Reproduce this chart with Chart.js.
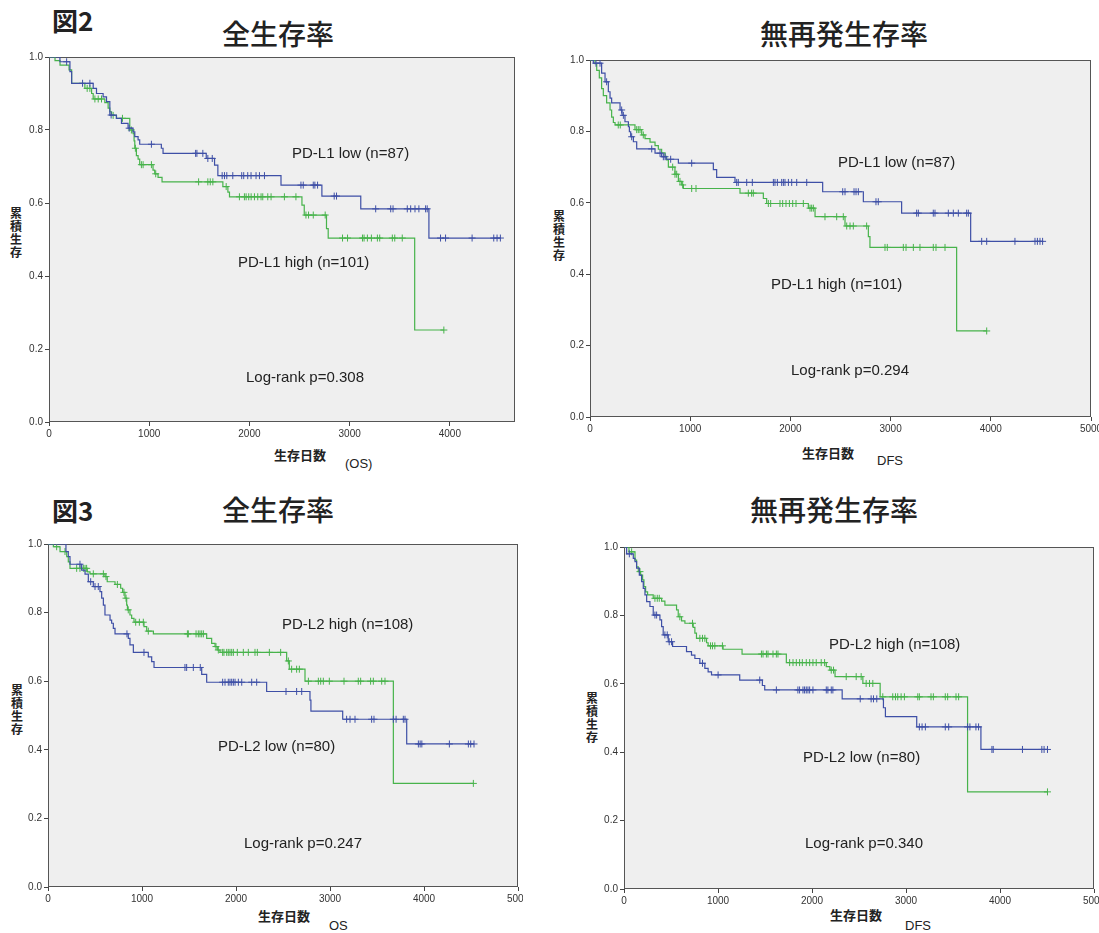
<!DOCTYPE html>
<html lang="ja">
<head>
<meta charset="UTF-8">
<title>PD-L1 / PD-L2 生存曲線</title>
<script src="https://cdn.jsdelivr.net/npm/chart.js"></script>
<style>
  body { margin: 0; background: #fff; width: 1099px; height: 933px; position: relative; overflow: hidden;
         font-family: "Liberation Sans", Arial, sans-serif; color: #222; }
  canvas { position: absolute; }
  .t { position: absolute; white-space: nowrap; line-height: 1; }
  .jp { font-family: "Noto Sans CJK JP", sans-serif; }
  .fig { font-size: 26px; font-weight: 700; }
  .title { font-size: 28px; font-weight: 500; }
  .note { font-size: 15px; }
  .ylab { font-size: 12px; font-weight: 700; line-height: 13px; width: 13px; white-space: normal; }
  .xlab { font-size: 13px; font-weight: 700; }
  .xsub { font-size: 13px; }
</style>
</head>
<body>
  <div class="t jp fig" style="left:52px; top:7px;">図2</div>
  <div class="t jp title" style="left:222px; top:19px;">全生存率</div>
  <div class="t jp title" style="left:760px; top:19px;">無再発生存率</div>
  <div class="t jp fig" style="left:52px; top:497px;">図3</div>
  <div class="t jp title" style="left:222px; top:495px;">全生存率</div>
  <div class="t jp title" style="left:750px; top:495px;">無再発生存率</div>

  <div class="t jp ylab" style="left:10px; top:206px;">累積生存</div>
  <div class="t jp ylab" style="left:553px; top:209px;">累積生存</div>
  <div class="t jp ylab" style="left:11px; top:683px;">累積生存</div>
  <div class="t jp ylab" style="left:586px; top:691px;">累積生存</div>

  <div class="t jp xlab" style="left:274px; top:448px;">生存日数</div>
  <div class="t xsub" style="left:345px; top:457px;">(OS)</div>
  <div class="t jp xlab" style="left:802px; top:446px;">生存日数</div>
  <div class="t xsub" style="left:877px; top:454px;">DFS</div>
  <div class="t jp xlab" style="left:258px; top:909px;">生存日数</div>
  <div class="t xsub" style="left:329px; top:919px;">OS</div>
  <div class="t jp xlab" style="left:830px; top:908px;">生存日数</div>
  <div class="t xsub" style="left:905px; top:919px;">DFS</div>

  <canvas id="osL1" width="510" height="393" style="left:13px; top:51px;"></canvas>
  <canvas id="dfsL1" width="545" height="385" style="left:554px; top:54px;"></canvas>
  <canvas id="osL2" width="511" height="371" style="left:12px; top:538px;"></canvas>
  <canvas id="dfsL2" width="511" height="370" style="left:588px; top:541px;"></canvas>

  <div class="t note" style="left:292px; top:145px;">PD-L1 low (n=87)</div>
  <div class="t note" style="left:238px; top:254px;">PD-L1 high (n=101)</div>
  <div class="t note" style="left:246px; top:369px;">Log-rank p=0.308</div>
  <div class="t note" style="left:838px; top:154px;">PD-L1 low (n=87)</div>
  <div class="t note" style="left:771px; top:276px;">PD-L1 high (n=101)</div>
  <div class="t note" style="left:791px; top:362px;">Log-rank p=0.294</div>
  <div class="t note" style="left:282px; top:616px;">PD-L2 high (n=108)</div>
  <div class="t note" style="left:218px; top:738px;">PD-L2 low (n=80)</div>
  <div class="t note" style="left:244px; top:835px;">Log-rank p=0.247</div>
  <div class="t note" style="left:829px; top:636px;">PD-L2 high (n=108)</div>
  <div class="t note" style="left:803px; top:749px;">PD-L2 low (n=80)</div>
  <div class="t note" style="left:805px; top:835px;">Log-rank p=0.340</div>

<script>
// axis ticks
const xTicks = [0, 1000, 2000, 3000, 4000, 5000];
const yTicks = [0, 0.2, 0.4, 0.6, 0.8, 1.0];

// 図2 全生存率 (OS), PD-L1 low / high
const osL1LowT = [0,109,209,226,441,474,540,574,607,673,723,789,839,856,889,905,1121,1138,1569,1652,1685,2315,2723,3111,3791,4504];
const osL1LowS = [1,0.987,0.96,0.928,0.914,0.9,0.891,0.878,0.841,0.832,0.818,0.805,0.795,0.782,0.773,0.761,0.75,0.736,0.722,0.704,0.675,0.649,0.619,0.584,0.504,0.504];
const osL1LowCT = [176,335,408,620,800,1022,1463,1476,1535,1585,1629,1728,1751,1774,1834,1923,1943,1983,2016,2066,2100,2150,2514,2537,2637,2653,2680,2846,2869,3260,3410,3433,3575,3609,3652,3691,3758,3774,3907,3957,4222,4438,4471,4504];
const osL1LowCS = [0.987,0.928,0.928,0.841,0.805,0.761,0.736,0.736,0.736,0.722,0.722,
  0.675,0.675,0.675,0.675,0.675,0.675,0.675,0.675,0.675,0.675,0.675,
  0.649,0.649,0.649,0.649,0.649,0.619,0.619,
  0.584,0.584,0.584,0.584,0.584,0.584,0.584,0.584,0.584,
  0.504,0.504,0.504,0.504,0.504,0.504];

const osL1HighT = [0,60,110,200,226,358,425,441,557,590,607,624,673,806,839,849,856,872,889,905,1038,1055,1088,1128,1735,1785,1801,2524,2547,2769,2786,3649,3940];
const osL1HighS = [1,0.99,0.978,0.965,0.928,0.914,0.9,0.885,0.875,0.86,0.85,0.84,0.832,0.8,0.79,0.77,0.75,0.73,0.72,0.705,0.69,0.68,0.67,0.658,0.645,0.63,0.617,0.594,0.567,0.53,0.504,0.252,0.252];
const osL1HighCT = [381,408,458,491,524,640,733,822,862,922,939,1022,1065,1493,1585,1609,1635,1768,1900,1950,1967,1993,2017,2050,2083,2116,2133,2183,2216,2349,2464,2564,2590,2637,2756,2929,2979,3128,3144,3177,3217,3277,3300,3426,3450,3525,3940];
const osL1HighCS = [0.914,0.914,0.885,0.885,0.885,0.84,0.832,0.8,0.75,0.705,0.705,0.705,0.68,0.658,0.658,0.658,0.658,0.645,
  0.617,0.617,0.617,0.617,0.617,0.617,0.617,0.617,0.617,0.617,0.617,0.617,0.617,
  0.567,0.567,0.567,0.567,
  0.504,0.504,0.504,0.504,0.504,0.504,0.504,0.504,0.504,0.504,0.504,0.252];

// 図2 無再発生存率 (DFS), PD-L1 low / high
const dfsL1LowT = [0,33,116,150,183,200,216,300,320,349,383,393,406,433,466,649,715,759,882,1231,1264,1447,2322,2728,3110,3799,4517];
const dfsL1LowS = [1,0.991,0.963,0.939,0.911,0.893,0.88,0.86,0.845,0.827,0.813,0.799,0.785,0.771,0.751,0.739,0.729,0.722,0.711,0.693,0.671,0.657,0.631,0.603,0.571,0.492,0.492];
const dfsL1LowCT = [60,100,166,316,333,416,616,699,732,749,805,1015,1464,1480,1564,1620,1830,1846,1870,1913,1930,1946,1980,2013,2063,2163,2522,2545,2635,2655,2678,2854,2877,3260,3277,3426,3443,3576,3626,3676,3759,3776,3909,3959,4241,4441,4465,4491,4517];
const dfsL1LowCS = [0.991,0.991,0.939,0.86,0.845,0.785,0.751,0.739,0.729,0.729,0.722,0.711,
  0.657,0.657,0.657,0.657,0.657,0.657,0.657,0.657,0.657,0.657,0.657,0.657,0.657,0.657,
  0.631,0.631,0.631,0.631,0.631,0.603,0.603,
  0.571,0.571,0.571,0.571,0.571,0.571,0.571,0.571,0.571,
  0.492,0.492,0.492,0.492,0.492,0.492,0.492];

const dfsL1HighT = [0,50,67,93,116,133,166,200,216,233,250,449,516,549,599,649,682,715,749,765,782,848,882,915,932,1497,1730,1763,2179,2246,2545,2778,2794,3659,3959];
const dfsL1HighS = [1,0.99,0.971,0.95,0.92,0.9,0.88,0.86,0.84,0.825,0.818,0.805,0.79,0.78,0.77,0.76,0.75,0.74,0.73,0.72,0.70,0.68,0.66,0.65,0.64,0.627,0.612,0.598,0.585,0.561,0.535,0.505,0.475,0.241,0.241];
const dfsL1HighCT = [282,302,466,482,499,532,825,848,865,898,925,1015,1058,1580,1613,1630,1780,1803,1896,1923,1956,1990,2023,2056,2129,2196,2212,2229,2345,2462,2528,2562,2595,2628,2761,2944,2967,3127,3154,3227,3293,3426,3453,3543,3959];
const dfsL1HighCS = [0.818,0.818,0.805,0.805,0.805,0.79,0.70,0.68,0.68,0.66,0.65,0.64,0.64,0.627,0.627,0.627,
  0.598,0.598,0.598,0.598,0.598,0.598,0.598,0.598,0.598,
  0.585,0.585,0.585,0.561,0.561,0.561,0.535,0.535,0.535,0.535,
  0.475,0.475,0.475,0.475,0.475,0.475,0.475,0.475,0.475,0.241];

// 図3 全生存率 (OS), PD-L2 low / high
const osL2LowT = [0,191,216,234,358,394,429,482,553,571,589,606,660,677,695,713,854,872,908,1067,1103,1128,1635,1688,2326,2787,2797,3135,3816,4532];
const osL2LowS = [1,0.978,0.963,0.941,0.924,0.912,0.89,0.876,0.861,0.842,0.822,0.793,0.778,0.769,0.754,0.738,0.725,0.706,0.684,0.671,0.657,0.64,0.62,0.597,0.570,0.545,0.513,0.489,0.417,0.417];
const osL2LowCT = [340,454,500,535,840,1021,1457,1475,1546,1620,1858,1883,1918,1936,1954,1972,1990,2025,2061,2167,2220,2532,2645,2699,3177,3213,3266,3443,3468,3674,3703,3780,3798,3940,3959,3977,4270,4472,4497,4532];
const osL2LowCS = [0.941,0.89,0.876,0.876,0.738,0.684,0.64,0.64,0.64,0.64,
  0.597,0.597,0.597,0.597,0.597,0.597,0.597,0.597,0.597,0.597,0.597,
  0.570,0.570,0.570,
  0.489,0.489,0.489,0.489,0.489,0.489,0.489,0.489,0.489,
  0.417,0.417,0.417,0.417,0.417,0.417,0.417];

const osL2HighT = [0,57,128,199,216,234,418,447,606,630,713,773,794,819,837,845,872,890,915,1021,1050,1121,1688,1741,1777,1801,1830,2539,2567,2734,3674,4525];
const osL2HighS = [1,0.992,0.978,0.963,0.948,0.929,0.919,0.913,0.905,0.89,0.882,0.871,0.859,0.842,0.822,0.808,0.793,0.783,0.772,0.759,0.746,0.738,0.725,0.71,0.701,0.691,0.684,0.659,0.635,0.60,0.302,0.302];
const osL2HighCT = [92,181,305,340,376,394,411,482,589,617,738,808,830,854,933,972,1014,1067,1483,1493,1575,1599,1617,1635,1653,1787,1812,1858,1872,1901,1918,1936,1954,1972,2014,2078,2131,2202,2227,2355,2475,2557,2592,2645,2674,2770,2876,2901,2929,2993,3149,3301,3326,3432,3461,3550,3585,4525];
const osL2HighCS = [0.992,0.978,0.929,0.929,0.929,0.929,0.929,0.913,0.913,0.905,0.882,0.859,0.842,0.808,0.772,0.772,0.772,0.746,
  0.738,0.738,0.738,0.738,0.738,0.738,0.738,0.701,0.691,
  0.684,0.684,0.684,0.684,0.684,0.684,0.684,0.684,0.684,0.684,0.684,0.684,0.684,0.684,
  0.659,0.635,0.635,0.635,
  0.60,0.60,0.60,0.60,0.60,0.60,0.60,0.60,0.60,0.60,0.60,0.60,0.302];

// 図3 無再発生存率 (DFS), PD-L2 low / high
const dfsL2LowT = [0,28,99,117,134,163,187,205,223,241,276,311,382,400,417,471,517,665,718,754,807,860,895,931,1231,1472,1497,2321,2760,2781,3114,3797,4505];
const dfsL2LowS = [1,0.98,0.967,0.957,0.938,0.918,0.899,0.879,0.86,0.84,0.826,0.801,0.787,0.767,0.743,0.723,0.709,0.694,0.684,0.674,0.66,0.645,0.635,0.626,0.611,0.595,0.582,0.556,0.53,0.504,0.474,0.408,0.408];
const dfsL2LowCT = [57,329,347,435,460,481,506,835,1001,1444,1621,1850,1868,1904,1921,1939,1957,1975,2010,2152,2169,2205,2222,2513,2629,2654,2689,3142,3171,3206,3418,3454,3655,3680,3744,3772,3914,3928,4239,4445,4469,4505];
const dfsL2LowCS = [0.98,0.801,0.801,0.743,0.743,0.723,0.723,0.66,0.626,0.611,
  0.582,0.582,0.582,0.582,0.582,0.582,0.582,0.582,0.582,0.582,0.582,0.582,0.582,
  0.556,0.556,0.556,0.556,
  0.474,0.474,0.474,0.474,0.474,0.474,0.474,0.474,0.474,
  0.408,0.408,0.408,0.408,0.408,0.408];

const dfsL2HighT = [0,53,117,134,152,177,198,212,230,251,311,400,435,559,577,612,648,736,754,771,878,895,1054,1256,1727,2152,2190,2245,2541,2725,3655,4505];
const dfsL2HighS = [1,0.986,0.962,0.942,0.928,0.918,0.904,0.884,0.869,0.86,0.85,0.842,0.83,0.816,0.796,0.784,0.777,0.765,0.748,0.733,0.72,0.711,0.701,0.687,0.662,0.65,0.64,0.621,0.601,0.562,0.284,0.284];
const dfsL2HighCT = [81,170,329,354,375,594,729,807,835,860,920,941,966,1047,1462,1479,1515,1532,1585,1621,1638,1762,1798,1833,1868,1897,1939,1975,2010,2045,2098,2134,2205,2229,2364,2470,2523,2576,2612,2647,2753,2859,2888,2912,2948,2983,3125,3142,3266,3291,3418,3443,3532,3560,4505];
const dfsL2HighCS = [0.986,0.928,0.85,0.85,0.85,0.796,0.777,0.733,0.733,0.733,0.711,0.711,0.711,0.711,
  0.687,0.687,0.687,0.687,0.687,0.687,0.687,
  0.662,0.662,0.662,0.662,0.662,0.662,0.662,0.662,0.662,0.662,0.662,
  0.64,0.64,0.621,0.621,0.621,0.601,0.601,0.601,
  0.562,0.562,0.562,0.562,0.562,0.562,0.562,0.562,0.562,0.562,0.562,0.562,0.562,0.562,0.284];

const BLUE = '#3e4fa6';
const GREEN = '#47b34b';

function pts(t, s) {
    return t.map((x, i) => ({ x: x, y: s[i] }));
}

// grey plot background and frame
const plotBox = {
    id: 'plotBox',
    beforeDraw(chart) {
        const a = chart.chartArea, ctx = chart.ctx;
        ctx.save();
        ctx.fillStyle = '#efefef';
        ctx.fillRect(a.left, a.top, a.right - a.left, a.bottom - a.top);
        ctx.restore();
    },
    beforeDatasetsDraw(chart) {
        const a = chart.chartArea, ctx = chart.ctx;
        ctx.save();
        ctx.strokeStyle = '#555';
        ctx.lineWidth = 1;
        ctx.strokeRect(a.left + 0.5, a.top + 0.5, a.right - a.left - 1, a.bottom - a.top - 1);
        ctx.restore();
    }
};

function makeChart(id, xMax, padRight, low, high) {
    const datasets = [];
    [low, high].forEach(c => {
        datasets.push({
            type: 'line', data: pts(c.t, c.s), borderColor: c.color, borderWidth: 1.2,
            stepped: true, pointRadius: 0, fill: false
        });
        datasets.push({
            type: 'scatter', data: pts(c.ct, c.cs), showLine: false,
            pointStyle: 'cross', pointRadius: 3.5, pointBorderWidth: 1,
            pointBorderColor: c.color, pointBackgroundColor: c.color, borderColor: c.color
        });
    });

    new Chart(document.getElementById(id), {
        type: 'scatter',
        data: { datasets: datasets },
        options: {
            responsive: false,
            animation: false,
            events: [],
            layout: { padding: { top: 6, right: padRight, left: 0, bottom: 0 } },
            plugins: { legend: { display: false }, tooltip: { enabled: false } },
            scales: {
                x: {
                    type: 'linear', min: 0, max: xMax,
                    afterBuildTicks: s => { s.ticks = xTicks.filter(v => v <= xMax).map(v => ({ value: v })); },
                    afterFit: s => { s.height = 22; s.paddingLeft = 0; s.paddingRight = 0; },
                    ticks: { font: { family: 'Liberation Sans', size: 10 }, color: '#333', padding: 2,
                             maxRotation: 0, autoSkip: false, callback: v => String(v) },
                    grid: { drawOnChartArea: false, tickLength: 4, color: '#444' },
                    border: { display: false }
                },
                y: {
                    type: 'linear', min: 0, max: 1,
                    afterBuildTicks: s => { s.ticks = yTicks.map(v => ({ value: v })); },
                    afterFit: s => { s.width = 36; s.paddingTop = 0; s.paddingBottom = 0; },
                    ticks: { font: { family: 'Liberation Sans', size: 10 }, color: '#333', padding: 2,
                             autoSkip: false, callback: v => v.toFixed(1) },
                    grid: { drawOnChartArea: false, tickLength: 4, color: '#444' },
                    border: { display: false }
                }
            }
        },
        plugins: [plotBox]
    });
}

makeChart('osL1', 4650, 8,
    { t: osL1LowT, s: osL1LowS, ct: osL1LowCT, cs: osL1LowCS, color: BLUE },
    { t: osL1HighT, s: osL1HighS, ct: osL1HighCT, cs: osL1HighCS, color: GREEN });
makeChart('dfsL1', 5000, 8,
    { t: dfsL1LowT, s: dfsL1LowS, ct: dfsL1LowCT, cs: dfsL1LowCS, color: BLUE },
    { t: dfsL1HighT, s: dfsL1HighS, ct: dfsL1HighCT, cs: dfsL1HighCS, color: GREEN });
makeChart('osL2', 5000, 5,
    { t: osL2LowT, s: osL2LowS, ct: osL2LowCT, cs: osL2LowCS, color: BLUE },
    { t: osL2HighT, s: osL2HighS, ct: osL2HighCT, cs: osL2HighCS, color: GREEN });
makeChart('dfsL2', 5000, 4,
    { t: dfsL2LowT, s: dfsL2LowS, ct: dfsL2LowCT, cs: dfsL2LowCS, color: BLUE },
    { t: dfsL2HighT, s: dfsL2HighS, ct: dfsL2HighCT, cs: dfsL2HighCS, color: GREEN });
</script>
</body>
</html>
